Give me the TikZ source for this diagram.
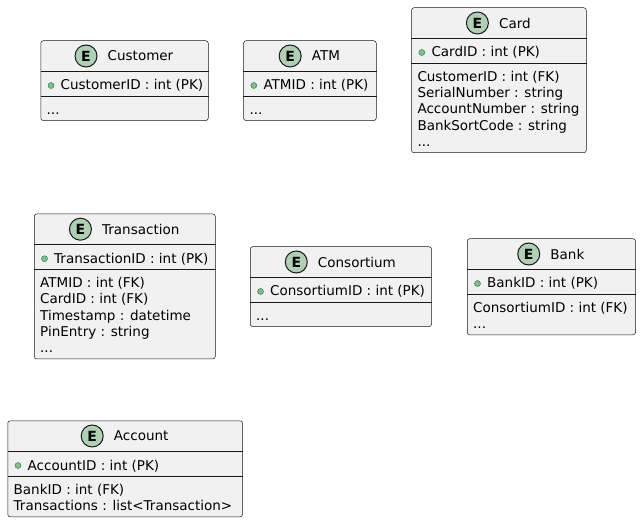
\documentclass[tikz,border=0pt]{standalone}
\usepackage{fontspec}
\setmainfont{DejaVu Sans}
\usepackage{tikz}
\usetikzlibrary{
  positioning,
  calc
}
\definecolor{erFill}{HTML}{F1F1F1}
\definecolor{erLine}{HTML}{181818}
\definecolor{erBadge}{HTML}{ADD1B2}
\definecolor{erDot}{HTML}{84BE84}
\definecolor{erDotLine}{HTML}{038048}
\newcommand{\erfont}{\fontsize{13.5}{16.3}\selectfont}
\tikzset{
  entity/.style={
    draw=erLine, line width=0.5pt, fill=erFill, rounded corners=2.5pt,
    inner sep=0pt, anchor=north west
  },
  etitle/.style={inner sep=0pt, font=\erfont},
  ebadge/.style={
    circle, draw=erLine, line width=1pt, fill=erBadge, minimum size=22pt,
    inner sep=0pt, font=\fontsize{14}{14}\selectfont\bfseries
  },
  pkdot/.style={circle, draw=erDotLine, line width=0.4pt, fill=erDot, minimum size=6pt, inner sep=0pt},
  attr/.style={anchor=base west, inner sep=0pt, font=\erfont},
  hdline/.style={draw=erLine, line width=0.5pt},
  pkline/.style={draw=erLine, line width=1pt}
}

\begin{document}
\begin{tikzpicture}[x=1pt, y=-1pt]
  \useasboundingbox (0,0) rectangle (641,524);

  % Customer
  \node[entity, minimum width=167.5pt, minimum height=79.8pt] (customer) at (40.5,40.5) {};
  \node[etitle] (customer-title) at ($(customer.north)+(16,15.5)$) {Customer};
  \node[ebadge, left=10pt of customer-title] (customer-badge) {E};
  \draw[hdline] ($(customer.north west)+(0,31)$) -- ($(customer.north east)+(0,31)$);
  \draw[pkline] ($(customer.north west)+(0,56)$) -- ($(customer.north east)+(0,56)$);
  \node[pkdot] (customer-dot) at ($(customer.north west)+(10.5,45)$) {};
  \node[attr] (customer-pk) at ($(customer.north west)+(20,49.5)$) {CustomerID : int (PK)};
  \node[attr] (customer-more) at ($(customer.north west)+(6,73.7)$) {...};

  % ATM
  \node[entity, minimum width=132.7pt, minimum height=79.8pt] (atm) at (243.3,40.5) {};
  \node[etitle] (atm-title) at ($(atm.north)+(16,15.5)$) {ATM};
  \node[ebadge, left=10pt of atm-title] (atm-badge) {E};
  \draw[hdline] ($(atm.north west)+(0,31)$) -- ($(atm.north east)+(0,31)$);
  \draw[pkline] ($(atm.north west)+(0,56)$) -- ($(atm.north east)+(0,56)$);
  \node[pkdot] (atm-dot) at ($(atm.north west)+(10.5,45)$) {};
  \node[attr] (atm-pk) at ($(atm.north west)+(20,49.5)$) {ATMID : int (PK)};
  \node[attr] (atm-more) at ($(atm.north west)+(6,73.7)$) {...};

  % Card
  \node[entity, minimum width=174.7pt, minimum height=145pt] (card) at (411.3,7.5) {};
  \node[etitle] (card-title) at ($(card.north)+(16,15.5)$) {Card};
  \node[ebadge, left=10pt of card-title] (card-badge) {E};
  \draw[hdline] ($(card.north west)+(0,31)$) -- ($(card.north east)+(0,31)$);
  \draw[pkline] ($(card.north west)+(0,56)$) -- ($(card.north east)+(0,56)$);
  \node[pkdot] (card-dot) at ($(card.north west)+(10.5,45)$) {};
  \node[attr] (card-pk) at ($(card.north west)+(20,49.5)$) {CardID : int (PK)};
  \foreach \txt [count=\i from 0] in {CustomerID : int (FK), SerialNumber : string,
      AccountNumber : string, BankSortCode : string}
    \node[attr] (card-a\i) at ($(card.north west)+(6,73.7+16.3*\i)$) {\txt};
  \node[attr] (card-more) at ($(card.north west)+(6,138.9)$) {...};

  % Transaction
  \node[entity, minimum width=181pt, minimum height=145pt] (transaction) at (34,213.7) {};
  \node[etitle] (transaction-title) at ($(transaction.north)+(16,15.5)$) {Transaction};
  \node[ebadge, left=10pt of transaction-title] (transaction-badge) {E};
  \draw[hdline] ($(transaction.north west)+(0,31)$) -- ($(transaction.north east)+(0,31)$);
  \draw[pkline] ($(transaction.north west)+(0,56)$) -- ($(transaction.north east)+(0,56)$);
  \node[pkdot] (transaction-dot) at ($(transaction.north west)+(10.5,45)$) {};
  \node[attr] (transaction-pk) at ($(transaction.north west)+(20,49.5)$) {TransactionID : int (PK)};
  \foreach \txt [count=\i from 0] in {ATMID : int (FK), CardID : int (FK),
      Timestamp : datetime, PinEntry : string}
    \node[attr] (transaction-a\i) at ($(transaction.north west)+(6,73.7+16.3*\i)$) {\txt};
  \node[attr] (transaction-more) at ($(transaction.north west)+(6,138.9)$) {...};

  % Consortium
  \node[entity, minimum width=181.3pt, minimum height=79.8pt] (consortium) at (250,246.5) {};
  \node[etitle] (consortium-title) at ($(consortium.north)+(16,15.5)$) {Consortium};
  \node[ebadge, left=10pt of consortium-title] (consortium-badge) {E};
  \draw[hdline] ($(consortium.north west)+(0,31)$) -- ($(consortium.north east)+(0,31)$);
  \draw[pkline] ($(consortium.north west)+(0,56)$) -- ($(consortium.north east)+(0,56)$);
  \node[pkdot] (consortium-dot) at ($(consortium.north west)+(10.5,45)$) {};
  \node[attr] (consortium-pk) at ($(consortium.north west)+(20,49.5)$) {ConsortiumID : int (PK)};
  \node[attr] (consortium-more) at ($(consortium.north west)+(6,73.7)$) {...};

  % Bank
  \node[entity, minimum width=168.3pt, minimum height=96.1pt] (bank) at (467,238.5) {};
  \node[etitle] (bank-title) at ($(bank.north)+(16,15.5)$) {Bank};
  \node[ebadge, left=10pt of bank-title] (bank-badge) {E};
  \draw[hdline] ($(bank.north west)+(0,31)$) -- ($(bank.north east)+(0,31)$);
  \draw[pkline] ($(bank.north west)+(0,56)$) -- ($(bank.north east)+(0,56)$);
  \node[pkdot] (bank-dot) at ($(bank.north west)+(10.5,45)$) {};
  \node[attr] (bank-pk) at ($(bank.north west)+(20,49.5)$) {BankID : int (PK)};
  \node[attr] (bank-a0) at ($(bank.north west)+(6,73.7)$) {ConsortiumID : int (FK)};
  \node[attr] (bank-more) at ($(bank.north west)+(6,90)$) {...};

  % Account
  \node[entity, minimum width=234.8pt, minimum height=96.1pt] (account) at (7.5,420.5) {};
  \node[etitle] (account-title) at ($(account.north)+(16,15.5)$) {Account};
  \node[ebadge, left=10pt of account-title] (account-badge) {E};
  \draw[hdline] ($(account.north west)+(0,31)$) -- ($(account.north east)+(0,31)$);
  \draw[pkline] ($(account.north west)+(0,56)$) -- ($(account.north east)+(0,56)$);
  \node[pkdot] (account-dot) at ($(account.north west)+(10.5,45)$) {};
  \node[attr] (account-pk) at ($(account.north west)+(20,49.5)$) {AccountID : int (PK)};
  \node[attr] (account-a0) at ($(account.north west)+(6,73.7)$) {BankID : int (FK)};
  \node[attr] (account-a1) at ($(account.north west)+(6,90)$) {Transactions : list<Transaction>};
\end{tikzpicture}
\end{document}
